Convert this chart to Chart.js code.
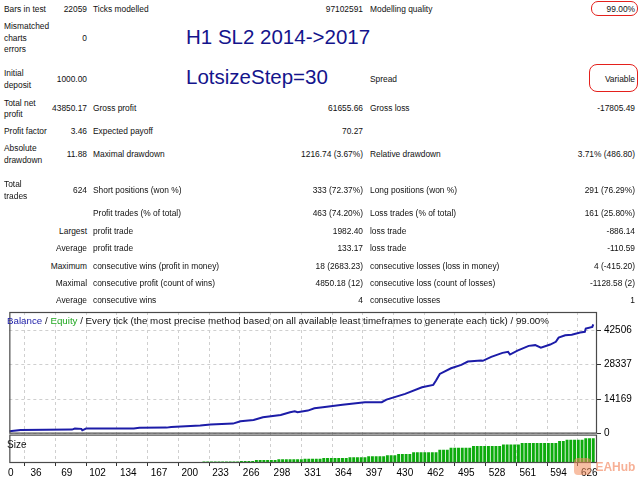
<!DOCTYPE html>
<html>
<head>
<meta charset="utf-8">
<script src="https://cdn.jsdelivr.net/npm/chart.js@4/dist/chart.umd.min.js"></script>
<style>
html, body { margin: 0; padding: 0; background: #fff; }
#page { position: relative; width: 640px; height: 480px; overflow: hidden; font-family: Tahoma, "Liberation Sans", Arial, sans-serif; }
.t { position: absolute; font-size: 8.4px; line-height: 11px; color: #111; white-space: nowrap; }
.big { position: absolute; left: 186px; font-family: "Liberation Sans", Arial, sans-serif; font-size: 20.5px; line-height: 20.5px; color: #14148c; white-space: nowrap; }
.mark { position: absolute; border: 1.6px solid #e4201c; box-sizing: border-box; }
#chartBox { position: absolute; left: 0; top: 300px; width: 640px; height: 180px; }
.cap { position: absolute; font-family: "Liberation Sans", Arial, sans-serif; font-size: 9.75px; line-height: 11px; color: #111; white-space: nowrap; }
#wm { position: absolute; left: 574px; top: 457px; opacity: 0.55; }
</style>
</head>
<body>
<div id="page">
  <div class="big" style="top:27px">H1 SL2 2014-&gt;2017</div>
  <div class="big" style="top:67px">LotsizeStep=30</div>
  <div class="mark" style="left:591px;top:1px;width:47px;height:15px;border-radius:7px"></div>
  <div class="mark" style="left:589px;top:64px;width:49px;height:28px;border-radius:8px"></div>
  <div id="chartBox"><canvas id="tester"></canvas></div>
  <div class="cap" style="left:7px;top:315px"><span style="color:#1c1ca8">Balance</span> / <span style="color:#22a822">Equity</span> / Every tick (the most precise method based on all available least timeframes to generate each tick) / 99.00%</div>
  <div class="cap" style="left:7px;top:439px;font-size:10px">Size</div>
  <div id="wm"><span style="display:inline-block;width:17px;height:17px;border-radius:4px;background:#f28a5a;vertical-align:middle"></span> <span style="font:bold 12px 'Liberation Sans',Arial,sans-serif;color:#f07040;vertical-align:middle">EAHub</span></div>
</div>
<script>
// balance curve (trade number -> balance)
var balanceTrades = [0, 12, 67, 70, 77, 78, 82, 133, 139, 168,
    173, 204, 215, 239, 247, 261, 271, 290, 300, 305,
    308, 319, 326, 335, 356, 380, 398, 403, 423, 441,
    453, 456, 460, 472, 483, 490, 504, 506, 515, 527,
    533, 535, 543, 555, 562, 568, 578, 584, 587, 594,
    601, 610, 615, 616, 623, 624];
var balanceValues = [1000, 1500, 1640, 2050, 1950, 1350, 2050, 2100, 2450, 2460,
    2740, 3290, 3700, 4100, 5050, 5600, 6700, 7680, 8750, 9170,
    8750, 9450, 10400, 10800, 11800, 12850, 12900, 13960, 16300, 19000,
    20000, 21770, 24500, 26800, 28200, 29570, 29980, 29860, 31500, 33140,
    33550, 32450, 34090, 36000, 36300, 35300, 36550, 37660, 39400, 40370,
    40600, 41480, 41750, 43120, 43800, 44850];

// lot size pane
var sizeTrades = [208, 212, 216, 220, 224, 228, 232, 236, 240, 244,
    248, 252, 256, 260, 264, 268, 272, 276, 280, 284,
    288, 292, 296, 300, 304, 308, 312, 316, 320, 324,
    328, 332, 336, 340, 344, 348, 352, 356, 360, 364,
    368, 372, 376, 380, 384, 388, 392, 396, 400, 404,
    408, 412, 416, 420, 424, 428, 432, 436, 440, 444,
    448, 452, 456, 460, 464, 468, 472, 476, 480, 484,
    488, 492, 496, 500, 504, 508, 512, 516, 520, 524,
    528, 532, 536, 540, 544, 548, 552, 556, 560, 564,
    568, 572, 576, 580, 584, 588, 592, 596, 600, 604,
    608, 612, 616, 620, 624];
var sizeLots = [0.15, 0.15, 0.15, 0.15, 0.15, 0.15, 0.15, 0.15, 0.15, 0.15,
    0.2, 0.2, 0.2, 0.2, 0.3, 0.3, 0.3, 0.3, 0.3, 0.3,
    0.37, 0.37, 0.37, 0.37, 0.37, 0.37, 0.37, 0.43, 0.43, 0.43,
    0.43, 0.43, 0.5, 0.5, 0.5, 0.5, 0.5, 0.5, 0.5, 0.57,
    0.57, 0.57, 0.57, 0.57, 0.67, 0.67, 0.67, 0.67, 0.67, 0.77,
    0.77, 0.77, 0.9, 0.9, 0.9, 0.9, 1.07, 1.07, 1.07, 1.07,
    1.07, 1.07, 1.07, 1.3, 1.3, 1.3, 1.5, 1.5, 1.5, 1.5,
    1.5, 1.5, 1.67, 1.67, 1.67, 1.67, 1.67, 1.67, 1.67, 1.67,
    1.83, 1.83, 1.83, 1.83, 1.83, 1.97, 1.97, 1.97, 1.97, 1.97,
    1.97, 1.97, 1.97, 1.97, 1.97, 2.17, 2.17, 2.3, 2.3, 2.3,
    2.3, 2.3, 2.43, 2.43, 2.43];

var xTickLabels = ['0', '36', '69', '102', '134', '167', '200', '233', '266', '298',
    '331', '364', '397', '430', '462', '495', '528', '561', '594', '626'];
var yTickValues = [0, 14169, 28337, 42506];

// report table: text, x, y (middle), align
var report = [
    ['Bars in test', 4, 9], ['22059', 87, 9, 'r'], ['Ticks modelled', 93, 9], ['97102591', 363, 9, 'r'],
    ['Modelling quality', 370, 9], ['99.00%', 635, 9, 'r'],
    ['Mismatched', 4, 26], ['charts', 4, 38], ['errors', 4, 49], ['0', 87, 38, 'r'],
    ['Initial', 4, 73], ['deposit', 4, 85], ['1000.00', 87, 79, 'r'], ['Spread', 370, 79], ['Variable', 635, 79, 'r'],
    ['Total net', 4, 103], ['profit', 4, 114], ['43850.17', 87, 108, 'r'], ['Gross profit', 93, 108],
    ['61655.66', 363, 108, 'r'], ['Gross loss', 370, 108], ['-17805.49', 635, 108, 'r'],
    ['Profit factor', 4, 131], ['3.46', 87, 131, 'r'], ['Expected payoff', 93, 131], ['70.27', 363, 131, 'r'],
    ['Absolute', 4, 148], ['drawdown', 4, 160], ['11.88', 87, 154, 'r'], ['Maximal drawdown', 93, 154],
    ['1216.74 (3.67%)', 363, 154, 'r'], ['Relative drawdown', 370, 154], ['3.71% (486.80)', 635, 154, 'r'],
    ['Total', 4, 184], ['trades', 4, 196], ['624', 87, 190, 'r'], ['Short positions (won %)', 93, 190],
    ['333 (72.37%)', 363, 190, 'r'], ['Long positions (won %)', 370, 190], ['291 (76.29%)', 635, 190, 'r'],
    ['Profit trades (% of total)', 93, 213], ['463 (74.20%)', 363, 213, 'r'],
    ['Loss trades (% of total)', 370, 213], ['161 (25.80%)', 635, 213, 'r'],
    ['Largest', 87, 231, 'r'], ['profit trade', 93, 231], ['1982.40', 363, 231, 'r'], ['loss trade', 370, 231], ['-886.14', 635, 231, 'r'],
    ['Average', 87, 248, 'r'], ['profit trade', 93, 248], ['133.17', 363, 248, 'r'], ['loss trade', 370, 248], ['-110.59', 635, 248, 'r'],
    ['Maximum', 87, 266, 'r'], ['consecutive wins (profit in money)', 93, 266], ['18 (2683.23)', 363, 266, 'r'],
    ['consecutive losses (loss in money)', 370, 266], ['4 (-415.20)', 635, 266, 'r'],
    ['Maximal', 87, 283, 'r'], ['consecutive profit (count of wins)', 93, 283], ['4850.18 (12)', 363, 283, 'r'],
    ['consecutive loss (count of losses)', 370, 283], ['-1128.58 (2)', 635, 283, 'r'],
    ['Average', 87, 300, 'r'], ['consecutive wins', 93, 300], ['4', 363, 300, 'r'], ['consecutive losses', 370, 300], ['1', 635, 300, 'r']
];

var page = document.getElementById('page');
report.forEach(function(r) {
    var d = document.createElement('div');
    d.className = 't';
    d.textContent = r[0];
    d.style.top = (r[2] - 5.5) + 'px';
    if (r[3] === 'r') d.style.right = (640 - r[1]) + 'px';
    else d.style.left = r[1] + 'px';
    page.appendChild(d);
});

var xGridStep = 624 / 19;

// frame round the two panes
var paneFrame = {
    id: 'paneFrame',
    afterDraw: function(chart) {
        var ctx = chart.ctx, a = chart.chartArea;
        var y = chart.scales.y, s = chart.scales.ySize;
        ctx.save();
        ctx.strokeStyle = '#4a4a4a';
        ctx.lineWidth = 1.2;
        ctx.strokeRect(a.left + 0.5, y.top + 0.5, a.right - a.left - 1, y.bottom - y.top - 1);
        ctx.strokeRect(a.left + 0.5, s.top + 1.5, a.right - a.left - 1, s.bottom - s.top - 2);
        ctx.restore();
    }
};

var ctx = document.getElementById('tester').getContext('2d');
new Chart(ctx, {
    type: 'bar',
    data: {
        datasets: [{
            type: 'line',
            label: 'Balance',
            data: balanceTrades.map(function(t, i) { return { x: t, y: balanceValues[i] }; }),
            borderColor: '#1c1ca8',
            borderWidth: 2,
            pointRadius: 0,
            tension: 0,
            xAxisID: 'x',
            yAxisID: 'y'
        }, {
            type: 'bar',
            label: 'Size',
            data: sizeTrades.map(function(t, i) { return { x: t, y: sizeLots[i] }; }),
            backgroundColor: '#0cab0c',
            barPercentage: 0.78,
            categoryPercentage: 1,
            xAxisID: 'x',
            yAxisID: 'ySize'
        }]
    },
    options: {
        responsive: true,
        maintainAspectRatio: false,
        animation: false,
        layout: { padding: { top: 12, left: 4, right: 0, bottom: 0 } },
        plugins: { legend: { display: false }, tooltip: { enabled: false } },
        scales: {
            x: {
                type: 'linear',
                min: 0,
                max: 628,
                offset: false,
                afterBuildTicks: function(s) {
                    s.ticks = xTickLabels.map(function(l, i) { return { value: i * xGridStep }; });
                },
                afterFit: function(s) { s.height = 17; },
                ticks: {
                    autoSkip: false,
                    maxRotation: 0,
                    padding: 1,
                    labelOffset: -4,
                    color: '#000',
                    font: { family: '"Liberation Sans", Arial, sans-serif', size: 10 },
                    callback: function(v, i) { return i === 0 ? '\u2007\u20070' : xTickLabels[i]; }
                },
                grid: { color: '#cfcfcf', tickColor: '#333', tickLength: 3 },
                border: { display: false, dash: [3, 3] }
            },
            y: {
                type: 'linear',
                position: 'right',
                stack: 'pane',
                stackWeight: 120,
                min: 0,
                max: 49900,
                afterBuildTicks: function(s) {
                    s.ticks = yTickValues.map(function(v) { return { value: v }; });
                },
                afterFit: function(s) { s.width = 43; },
                ticks: {
                    padding: 3,
                    color: '#000',
                    font: { family: '"Liberation Sans", Arial, sans-serif', size: 10 },
                    callback: function(v) { return String(v); }
                },
                grid: { color: '#cfcfcf', tickColor: '#333', tickLength: 4 },
                border: { display: false, dash: [3, 3] }
            },
            ySize: {
                type: 'linear',
                position: 'right',
                stack: 'pane',
                stackWeight: 29,
                min: 0,
                max: 2.9,
                afterFit: function(s) { s.width = 43; },
                ticks: { display: false },
                grid: { display: false },
                border: { display: false }
            }
        }
    },
    plugins: [paneFrame]
});
</script>
</body>
</html>
